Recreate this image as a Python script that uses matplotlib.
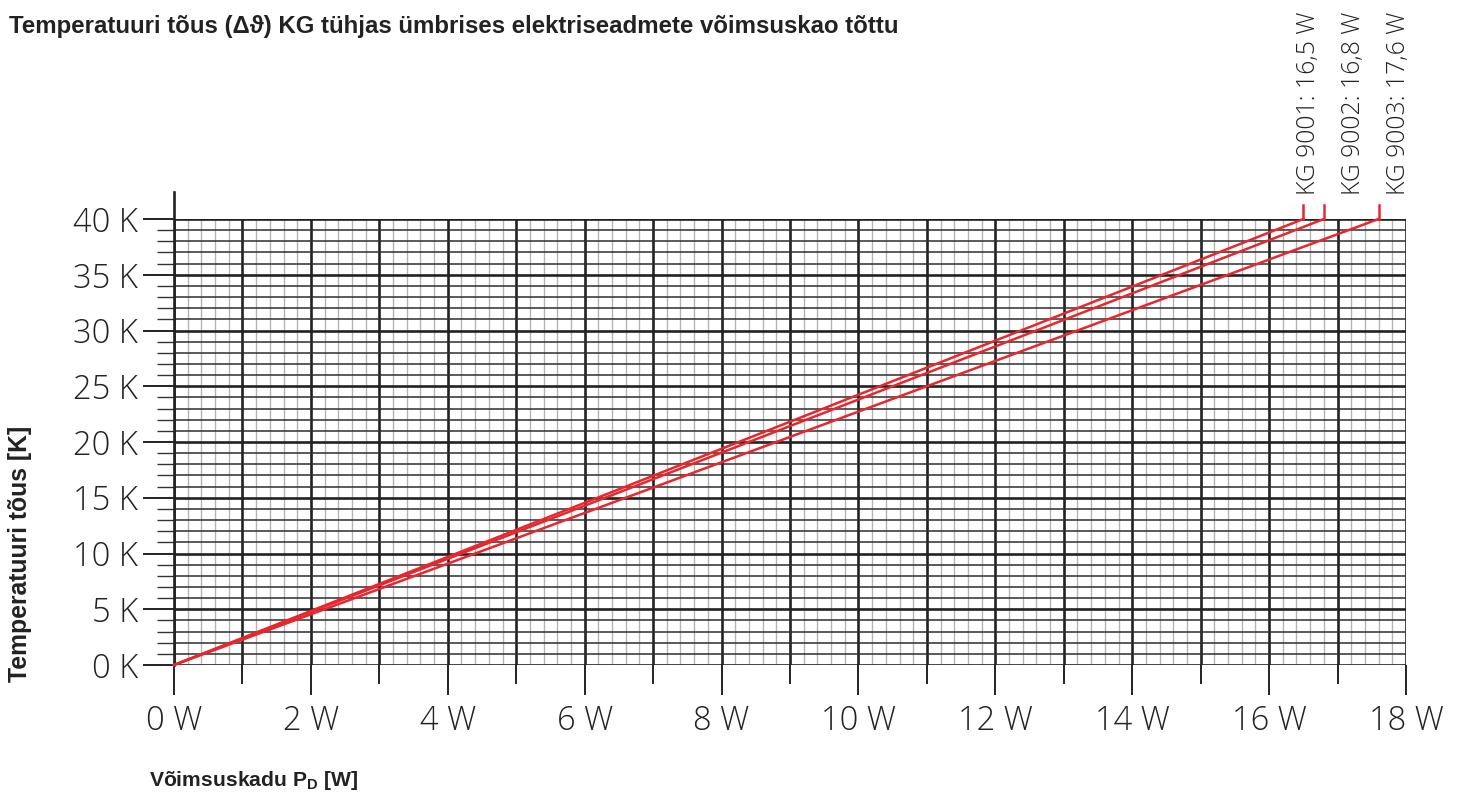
import numpy as np
import matplotlib
matplotlib.use("Agg")
import matplotlib.pyplot as plt
from matplotlib import font_manager

plt.rcParams['font.family'] = ['Liberation Sans', 'DejaVu Sans']

# end power of each enclosure at 40 K rise
models = ['KG 9001', 'KG 9002', 'KG 9003']
max_power = [16.5, 16.8, 17.6]
max_rise = 40
x_ticks = list(range(0, 19, 2))
y_ticks = list(range(0, 41, 5))

red = '#e8262d'
ink = '#222222'
thin = font_manager.FontProperties(family=['Open Sans', 'Liberation Sans'], weight='light')

fig = plt.figure(figsize=(14.63, 7.96), dpi=100)
ax = fig.add_axes([174 / 1463, 1 - 665 / 796, (1406 - 174) / 1463, (665 - 219) / 796])
ax.set_xlim(0, 18)
ax.set_ylim(0, 40)

# grid: fine verticals every 0.2 W, heavy every 1 W; 1 K and 5 K horizontals
for w in np.arange(0, 18.001, 0.2):
    if abs(w - round(w)) > 1e-6:
        ax.axvline(w, color='#b5b5b5', lw=1.0, zorder=1)
for w in range(0, 19):
    ax.axvline(w, color=ink, lw=1.9, zorder=2)
for k in range(0, 41):
    if k % 5:
        ax.axhline(k, color='#2e2e2e', lw=1.1, zorder=2)
    else:
        ax.axhline(k, color=ink, lw=1.9, zorder=2)

for s in ax.spines.values():
    s.set_visible(False)
# y axis runs a little above the plot area
ax.plot([0, 0], [0, 42.4], color=ink, lw=1.9, clip_on=False, zorder=3)

ax.set_xticks(x_ticks)
ax.set_xticklabels([f'{v} W' for v in x_ticks], fontproperties=thin, fontsize=23.5)
ax.set_xticks(range(1, 18, 2), minor=True)
ax.set_yticks(y_ticks)
ax.set_yticklabels([f'{v} K' for v in y_ticks], fontproperties=thin, fontsize=23.5)
ax.set_yticks([k for k in range(0, 41) if k % 5], minor=True)
ax.tick_params(axis='x', which='major', length=21.5, width=1.4, color=ink,
               pad=7, labelcolor=ink)
ax.tick_params(axis='x', which='minor', length=14, width=1.4, color=ink)
ax.tick_params(axis='y', which='major', length=22, width=1.4, color=ink,
               pad=4, labelcolor=ink)
ax.tick_params(axis='y', which='minor', length=12.5, width=1.0, color='#333333')

label_x = [16.57, 17.23, 17.89]
for name, p, lx in zip(models, max_power, label_x):
    ax.plot([0, p], [0, max_rise], color=red, lw=1.8, zorder=4, clip_on=False)
    ax.plot([p, p], [max_rise, max_rise + 1.3], color=red, lw=1.8, zorder=4, clip_on=False)
    ax.text(lx, 42.15, f'{name}: {str(p).replace(".", ",")} W', rotation=90,
            ha='center', va='bottom', fontproperties=thin, fontsize=17.8, color=ink)

fig.text(9 / 1463, 1 - 26 / 796, 'Temperatuuri tõus (Δϑ) KG tühjas ümbrises elektriseadmete võimsuskao tõttu',
         fontsize=17.3, fontweight='bold', va='center', ha='left', color=ink)
fig.text(20 / 1463, 1 - 554 / 796, 'Temperatuuri tõus [K]', rotation=90,
         fontsize=17.8, fontweight='bold', va='center', ha='center', color=ink)
fig.text(149 / 1463, 1 - 780 / 796, 'Võimsuskadu P$_\\mathregular{D}$ [W]',
         fontsize=15.2, fontweight='bold', va='center', ha='left', color=ink)

fig.savefig('out.png', dpi=100)
